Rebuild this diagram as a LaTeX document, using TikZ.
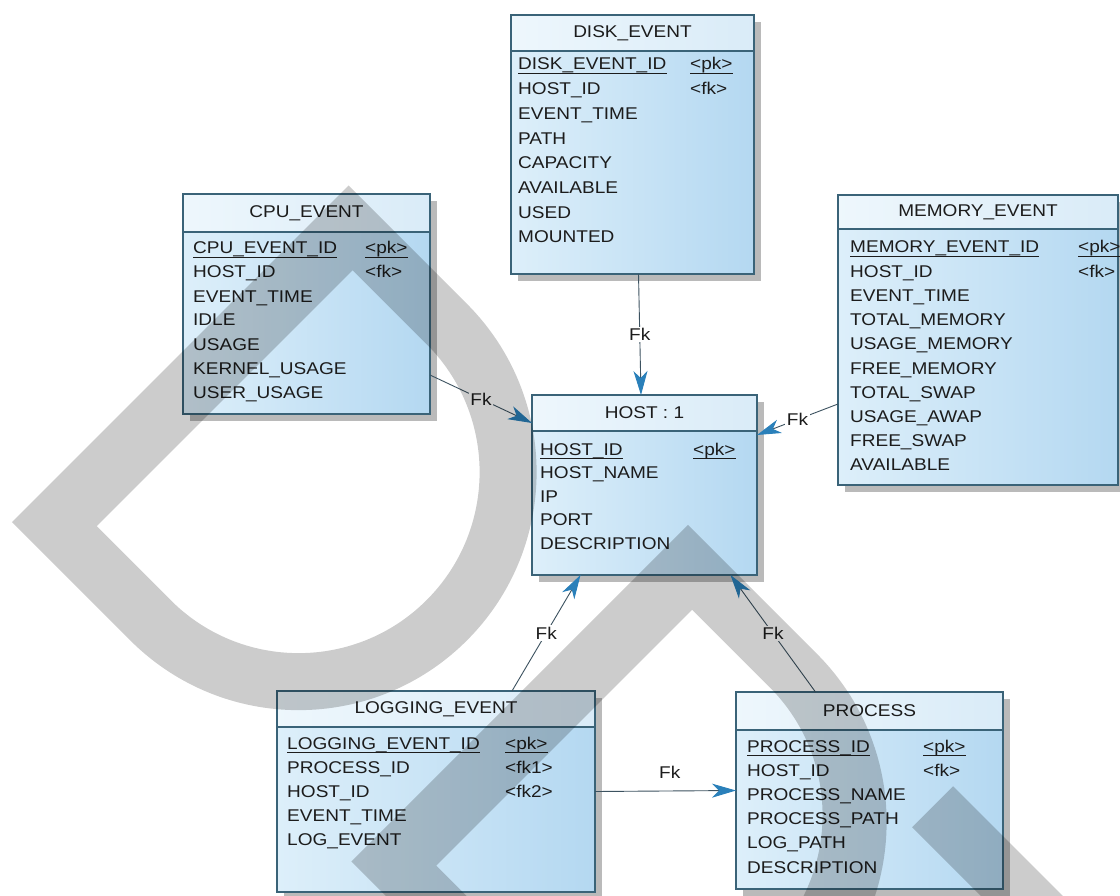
\documentclass[tikz,border=0pt]{standalone}
\usepackage{fontspec}
\setmainfont{Liberation Sans}[FakeStretch=1.12]
\usetikzlibrary{arrows.meta,calc,shadows}

\definecolor{edge}{HTML}{3A6378}
\definecolor{bodyL}{HTML}{DDEFFA}
\definecolor{bodyR}{HTML}{B4D8F1}
\definecolor{ink}{HTML}{1C1C1C}
\definecolor{tip}{HTML}{2A80BA}
\definecolor{wire}{HTML}{3C5260}

\tikzset{
  tbl/.style={left color=bodyL, right color=bodyR, inner sep=0pt, outer sep=0pt,
    anchor=north west,
    drop shadow={shadow xshift=7pt, shadow yshift=-7pt, fill=black!27, opacity=1}},
  hdr/.style={fill=white, fill opacity=0.5},
  edgeline/.style={draw=edge, line width=1.1pt},
  keyline/.style={draw=ink, line width=0.9pt},
  title/.style={font=\fontsize{17}{20}\selectfont, text=ink, inner sep=0pt},
  fld/.style={font=\fontsize{17}{20}\selectfont, text=ink, inner sep=0pt, anchor=base west},
  lbl/.style={font=\fontsize{17}{20}\selectfont, text=ink, fill=white, inner sep=1.5pt},
  fk/.style={draw=wire, line width=0.9pt,
    -{Stealth[length=24pt, width=14pt, inset=7pt, color=tip]}},
  wmark/.style={fill=black},
}

% table frame: name, x, y, width, height, header height, title
\newcommand\ertable[7]{%
  \node[tbl, minimum width=#4pt, minimum height=#5pt] (#1) at (#2,#3) {};
  \fill[hdr] (#1.north west) rectangle ($(#1.north east)+(0,#6)$);
  \draw[edgeline] ($(#1.north west)+(0,#6)$) -- ($(#1.north east)+(0,#6)$);
  \draw[edgeline] (#1.north west) rectangle (#1.south east);
  \node[title] (#1-title) at ($(#1.north)+(0,#6/2)$) {#7};
}
% field rows: table name, x, first baseline, row step, list (first row is the key)
\newcommand\erfields[5]{%
  \foreach \f [count=\i from 0] in {#5}
    \node[fld] (#1-f\i) at (#2,#3+#4*\i) {\f};
  \draw[keyline] ([yshift=-3.5pt]#1-f0.base west) -- ([yshift=-3.5pt]#1-f0.base east);
}
% key markers
\newcommand\erkey[4]{%
  \node[fld] (#1) at (#2,#3) {#4};
}
\newcommand\erpk[3]{%
  \node[fld] (#1) at (#2,#3) {<pk>};
  \draw[keyline] ([yshift=-3.5pt]#1.base west) -- ([yshift=-3.5pt]#1.base east);
}

\begin{document}
\begin{tikzpicture}[x=1pt, y=-1pt]
\useasboundingbox[fill=white] (0,0) rectangle (1120,896);

% ---------- tables ----------
\ertable{cpu}{183}{194}{247}{220}{38}{CPU\_EVENT}
\erfields{cpu}{193}{254}{24}{CPU\_EVENT\_ID,HOST\_ID,EVENT\_TIME,IDLE,USAGE,KERNEL\_USAGE,USER\_USAGE}
\erpk{cpu-pk}{365}{254}
\erkey{cpu-fk}{365}{278}{<fk>}

\ertable{disk}{511}{15}{243}{259}{36}{DISK\_EVENT}
\erfields{disk}{518}{70}{24.7}{DISK\_EVENT\_ID,HOST\_ID,EVENT\_TIME,PATH,CAPACITY,AVAILABLE,USED,MOUNTED}
\erpk{disk-pk}{690}{70}
\erkey{disk-fk}{690}{94.7}{<fk>}

\ertable{mem}{838}{195}{280}{290}{34}{MEMORY\_EVENT}
\erfields{mem}{850}{253}{24.2}{MEMORY\_EVENT\_ID,HOST\_ID,EVENT\_TIME,TOTAL\_MEMORY,USAGE\_MEMORY,FREE\_MEMORY,TOTAL\_SWAP,USAGE\_AWAP,FREE\_SWAP,AVAILABLE}
\erpk{mem-pk}{1078}{253}
\erkey{mem-fk}{1078}{277.2}{<fk>}

\ertable{host}{532}{395}{225}{180}{36}{HOST : 1}
\erfields{host}{540}{455}{23.5}{HOST\_ID,HOST\_NAME,IP,PORT,DESCRIPTION}
\erpk{host-pk}{693}{455}

\ertable{log}{277}{691}{318}{201}{36}{LOGGING\_EVENT}
\erfields{log}{287}{749}{24.2}{LOGGING\_EVENT\_ID,PROCESS\_ID,HOST\_ID,EVENT\_TIME,LOG\_EVENT}
\erpk{log-pk}{505}{749}
\erkey{log-fk1}{505}{773.2}{<fk1>}
\erkey{log-fk2}{505}{797.4}{<fk2>}

\ertable{proc}{736}{692}{267}{197}{38}{PROCESS}
\erfields{proc}{747}{752}{24.2}{PROCESS\_ID,HOST\_ID,PROCESS\_NAME,PROCESS\_PATH,LOG\_PATH,DESCRIPTION}
\erpk{proc-pk}{923}{752}
\erkey{proc-fk}{923}{776.2}{<fk>}

% ---------- foreign keys ----------
\draw[fk] ([xshift=6pt]disk.south) -- node[lbl, pos=0.5] {Fk} ([xshift=-3.5pt]host.north);
\draw[fk] ([yshift=-71pt]cpu.east) -- node[lbl, pos=0.5] {Fk} ([yshift=62pt]host.west);
\draw[fk] ([yshift=-64pt]mem.west) -- node[lbl, pos=0.5] {Fk} ([yshift=50pt]host.east);
\draw[fk] ([xshift=76pt]log.north) -- node[lbl, pos=0.5] {Fk} ([xshift=-64pt]host.south);
\draw[fk] ([xshift=-54pt]proc.north) -- node[lbl, pos=0.5] {Fk} ([xshift=86pt]host.south);
\draw[fk] (log.east) -- node[lbl, fill=none, pos=0.53, above=11pt] {Fk} (proc.west);

% ---------- grey letter marks laid over the sheet ----------
% drawn in a frame turned by 45 degrees: first axis runs down-right, second down-left
\begin{scope}[transparency group, opacity=0.2]
\begin{scope}[x={(0.70711pt,-0.70711pt)}, y={(-0.70711pt,-0.70711pt)}]
  \fill[wmark, even odd rule]
    (377.6,-115.3) -- (545,-115.3) arc[start angle=-90, end angle=90, radius=238]
      -- (377.6,360.7) -- cycle
    (440.5,-58.3) -- (545,-58.3) arc[start angle=-90, end angle=90, radius=181]
      -- (440.5,303.7) -- cycle;
  \fill[wmark, even odd rule]
    (857.6,-115.3) -- (1040,-115.3) arc[start angle=-90, end angle=90, radius=238]
      -- (857.6,360.7) -- cycle
    (920.5,-58.3) -- (1030,-58.3) arc[start angle=-90, end angle=90, radius=181]
      -- (920.5,303.7) -- cycle;
  \fill[wmark] (1230,-118) -- (1420,-118) -- (1420,-60) -- (1230,-60) -- cycle;
\end{scope}
\end{scope}
\end{tikzpicture}
\end{document}
